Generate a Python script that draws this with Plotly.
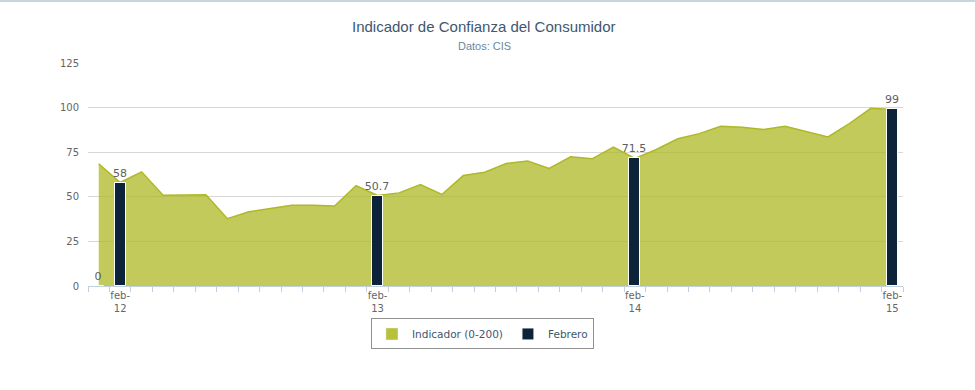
import plotly.graph_objects as go

months = ["ene", "feb", "mar", "abr", "may", "jun", "jul", "ago", "sep", "oct", "nov", "dic"]
categories = []
for yr in ["12", "13", "14", "15"]:
    for m in months:
        categories.append(f"{m}-{yr}")
categories = categories[: categories.index("feb-15") + 1]

indicador = [
    68.5, 58.0, 64.0, 50.9, 51.0, 51.1, 37.7, 41.6, 43.5, 45.2, 45.3, 44.8,
    56.3, 50.7, 52.2, 56.9, 51.3, 61.9, 63.8, 68.7, 70.0, 65.9, 72.4, 71.3,
    77.8, 71.5, 76.5, 82.5, 85.4, 89.5, 89.0, 87.7, 89.5, 86.7, 83.6, 91.0,
    99.6, 99.0,
]

febrero_cats = ["ene-12", "feb-12", "feb-13", "feb-14", "feb-15"]
febrero_vals = [0, 58, 50.7, 71.5, 99]
febrero_text = ["0", "58", "50.7", "71.5", "99"]

title_text = "Indicador de Confianza del Consumidor"
subtitle_text = "Datos: CIS"

tick_text = [(c.replace("-", "-<br>") if c.startswith("feb") else "") for c in categories]

OLIVE = "#afb826"
NAVY = "#0d2339"

fig = go.Figure()
fig.add_trace(go.Scatter(
    x=categories, y=indicador, name="Indicador (0-200)", mode="lines",
    fill="tozeroy", fillcolor="rgba(175,184,38,0.75)",
    line=dict(color=OLIVE, width=1.5), showlegend=False,
))
# legend swatch (square) for the area series
fig.add_trace(go.Bar(
    x=[None], y=[None], name="Indicador (0-200)", xaxis="x2", yaxis="y",
    marker=dict(color="#b9c03a"), showlegend=True,
))
fig.add_trace(go.Bar(
    x=febrero_cats, y=febrero_vals, name="Febrero", width=0.52,
    xaxis="x2", yaxis="y",
    marker=dict(color=NAVY, line=dict(color="white", width=1)),
    text=febrero_text, textposition="outside", cliponaxis=False,
    constraintext="none",
    textfont=dict(family="DejaVu Sans", size=11, color="#606060"),
))

PLOT_H = 223
fig.update_layout(
    width=975, height=390,
    margin=dict(l=88, r=72, t=63, b=104),
    paper_bgcolor="white", plot_bgcolor="white",
    barmode="overlay", bargap=0,
    showlegend=True,
    legend=dict(
        orientation="h", x=0.484, xanchor="center", y=-0.215, yanchor="middle",
        bordercolor="#909090", borderwidth=1, bgcolor="white",
        font=dict(family="DejaVu Sans", size=10.5, color="#3E576F"),
        itemwidth=30, traceorder="normal",
    ),
    font=dict(family="DejaVu Sans", size=10, color="#666666"),
    annotations=[
        dict(text=title_text, xref="paper", yref="paper", x=0.486, y=1 + (63 - 27) / PLOT_H,
             xanchor="center", yanchor="middle", showarrow=False,
             font=dict(family="Liberation Sans", size=15, color="#3E576F")),
        dict(text=subtitle_text, xref="paper", yref="paper", x=0.486, y=1 + (63 - 46) / PLOT_H,
             xanchor="center", yanchor="middle", showarrow=False,
             font=dict(family="Liberation Sans", size=11, color="#6D869F")),
    ],
)

xcommon = dict(
    type="category", categoryorder="array", categoryarray=categories,
    range=[-0.5, len(categories) - 0.5],
)
fig.update_layout(
    xaxis=dict(
        **xcommon,
        tickmode="array", tickvals=categories, ticktext=tick_text,
        tickson="boundaries", ticks="outside", ticklen=5, tickcolor="#C0D0E0",
        showline=True, linecolor="#C0D0E0", linewidth=1,
        showgrid=False, tickfont=dict(family="DejaVu Sans", size=10, color="#666666"),
        tickangle=0,
    ),
    xaxis2=dict(**xcommon, overlaying="x", visible=False, showgrid=False),
    yaxis=dict(
        range=[0, 125], tickvals=[0, 25, 50, 75, 100, 125],
        showgrid=True, gridcolor="#D8D8D8", gridwidth=1,
        zeroline=False, showline=False, ticks="",
        tickfont=dict(family="DejaVu Sans", size=10, color="#666666"),
        ticklabelstandoff=8,
    ),
)

fig.add_shape(
    type="rect", xref="paper", yref="paper",
    x0=-88 / 815, x1=1 + 72 / 815, y0=1 + 61 / PLOT_H, y1=1 + 63 / PLOT_H,
    fillcolor="#C8D6E0", line=dict(width=0), layer="above",
)

fig.write_html("out.html", config={"displayModeBar": False},
               post_script="document.body.style.margin='0';")
